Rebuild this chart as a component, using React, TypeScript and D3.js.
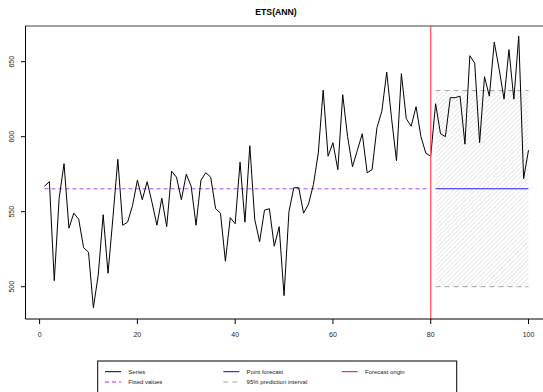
import React from "react";
import * as d3 from "d3";

const seriesValues: number[] = [
  567, 570, 504, 559, 582, 539, 549, 545, 526, 523,
  486, 508, 548, 509, 546, 585, 541, 543, 554, 571,
  558, 570, 556, 541, 559, 540, 577, 573, 558, 575,
  567, 541, 571, 576, 573, 552, 549, 517, 546, 542,
  583, 543, 594, 545, 530, 551, 552, 527, 540, 494,
  550, 566, 566, 549, 555, 568, 589, 631, 587, 596,
  578, 628, 600, 580, 591, 602, 576, 578, 606, 617,
  643, 612, 584, 642, 612, 607, 620, 600, 589, 587,
  622, 602, 600, 626, 626, 627, 595, 654, 649, 596,
  640, 627, 663, 645, 625, 658, 625, 667, 572, 591,
];
const fittedLevel = 565.3;
const forecastLevel = 565.3;
const upperLevel = 630.7;
const lowerLevel = 500;
const originX = 80;
const forecastStart = 81;
const forecastEnd = 100;
const xTicks = [0, 20, 40, 60, 80, 100];
const yTicks = [500, 550, 600, 650];
const title = "ETS(ANN)";
const legendItems = [
  { label: "Series", color: "#000000", dash: "" },
  { label: "Point forecast", color: "#0000ff", dash: "" },
  { label: "Forecast origin", color: "#ff0000", dash: "" },
  { label: "Fitted values", color: "#a020f0", dash: "4,3" },
  { label: "95% prediction interval", color: "#a0a0a0", dash: "5,4" },
];

export default function App() {
  const W = 543;
  const H = 392;
  const left = 25.5;
  const bottom = 319;
  const top = 26;
  const x = d3.scaleLinear().domain([0, 100]).range([39.6, 528.5]);
  const y = d3.scaleLinear().domain([500, 650]).range([286.7, 61.7]);

  const pts = seriesValues.map((v, i) => [i + 1, v] as [number, number]);
  const line = d3
    .line<[number, number]>()
    .x((d) => x(d[0]))
    .y((d) => y(d[1]));

  const font = "'Liberation Sans', Arial, Helvetica, sans-serif";

  const legCols = [105, 223.3, 341.7];
  const legRows = [371.7, 382];

  return (
    <svg
      width={W}
      height={H}
      style={{ position: "fixed", left: 0, top: 0, background: "#fff" }}
      fontFamily={font}
    >
      <defs>
        <pattern
          id="hatch"
          width={3.2}
          height={3.2}
          patternUnits="userSpaceOnUse"
          patternTransform="rotate(45)"
        >
          <line x1={0} y1={0} x2={0} y2={3.2} stroke="#d2d2d2" strokeWidth={1} />
        </pattern>
      </defs>
      <rect x={0} y={0} width={W} height={H} fill="#fff" />
      <text
        x={276}
        y={15.3}
        textAnchor="middle"
        fontWeight="bold"
        fontSize={8.7}
        fill="#000"
      >
        {title}
      </text>

      {/* prediction interval hatch */}
      <rect
        x={x(forecastStart)}
        y={y(upperLevel)}
        width={x(forecastEnd) - x(forecastStart)}
        height={y(lowerLevel) - y(upperLevel)}
        fill="url(#hatch)"
      />
      {[upperLevel, lowerLevel].map((lv) => (
        <line
          key={lv}
          x1={x(forecastStart)}
          x2={x(forecastEnd)}
          y1={y(lv)}
          y2={y(lv)}
          stroke="#a0a0a0"
          strokeWidth={1}
          strokeDasharray="5,4"
        />
      ))}

      {/* fitted */}
      <line
        x1={x(1)}
        x2={x(originX)}
        y1={y(fittedLevel)}
        y2={y(fittedLevel)}
        stroke="#a64df5"
        strokeWidth={1}
        strokeDasharray="4,3"
      />
      {/* point forecast */}
      <line
        x1={x(forecastStart)}
        x2={x(forecastEnd)}
        y1={y(forecastLevel)}
        y2={y(forecastLevel)}
        stroke="#2020ff"
        strokeWidth={1}
      />
      {/* series */}
      <path d={line(pts) || ""} fill="none" stroke="#000" strokeWidth={1} />

      {/* forecast origin */}
      <line
        x1={x(originX)}
        x2={x(originX)}
        y1={top}
        y2={bottom}
        stroke="#ff5a5a"
        strokeWidth={1.3}
      />

      {/* frame */}
      <line x1={left} x2={W} y1={top} y2={top} stroke="#808080" strokeWidth={1.4} />
      <line x1={left} x2={left} y1={top} y2={bottom} stroke="#000" strokeWidth={1} />
      <line x1={left} x2={W} y1={bottom} y2={bottom} stroke="#000" strokeWidth={1} />

      {/* x axis */}
      {xTicks.map((t) => (
        <g key={t}>
          <line x1={x(t)} x2={x(t)} y1={bottom} y2={bottom + 5} stroke="#000" strokeWidth={1} />
          <text x={x(t)} y={336.5} textAnchor="middle" fontSize={7} fill="#222">
            {t}
          </text>
        </g>
      ))}
      {/* y axis */}
      {yTicks.map((t) => (
        <g key={t}>
          <line x1={left - 4.5} x2={left} y1={y(t)} y2={y(t)} stroke="#000" strokeWidth={1} />
          <text
            transform={`translate(14.3,${y(t)}) rotate(-90)`}
            textAnchor="middle"
            fontSize={7}
            fill="#222"
          >
            {t}
          </text>
        </g>
      ))}

      {/* legend */}
      <rect x={97.7} y={361} width={359} height={40} fill="none" stroke="#000" strokeWidth={1} />
      {legendItems.map((it, i) => {
        const col = i % 3;
        const row = Math.floor(i / 3);
        const lx = legCols[col];
        const ly = legRows[row];
        return (
          <g key={it.label}>
            <line
              x1={lx}
              x2={lx + 16}
              y1={ly}
              y2={ly}
              stroke={it.color}
              strokeWidth={1}
              strokeDasharray={it.dash || undefined}
            />
            <text x={lx + 23.3} y={ly + 2} fontSize={6} fill="#222">
              {it.label}
            </text>
          </g>
        );
      })}
    </svg>
  );
}
